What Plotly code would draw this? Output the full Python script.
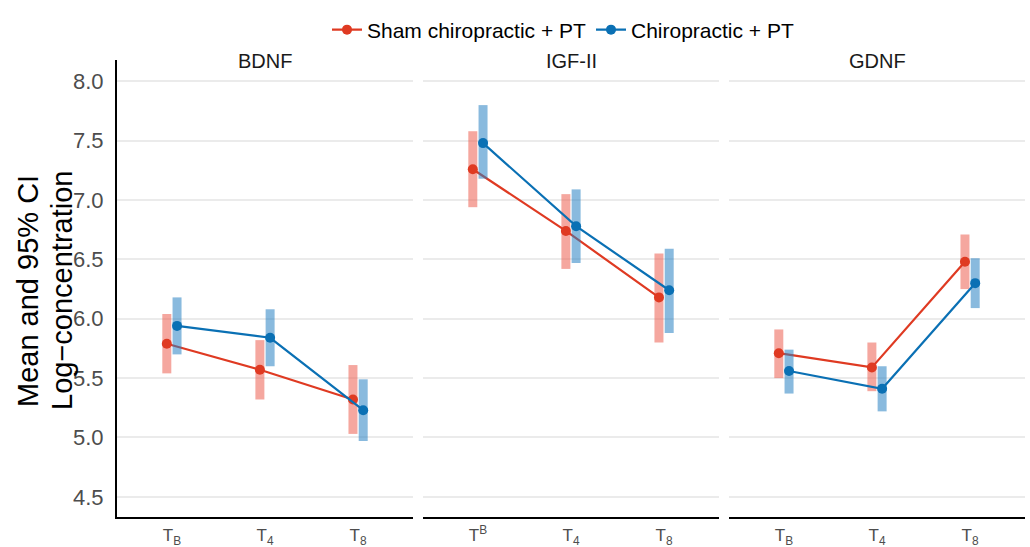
import plotly.graph_objects as go

# ---- data ----
panels = ["BDNF", "IGF-II", "GDNF"]
time_labels = ["T<sub>B</sub>", "T<sub>4</sub>", "T<sub>8</sub>"]
time_labels_mid = ["T<sup>B</sup>", "T<sub>4</sub>", "T<sub>8</sub>"]
groups = ["Sham chiropractic + PT", "Chiropractic + PT"]
y_title_lines = ["Mean and 95% CI", "Log\u2212concentration"]

sham_mean = [[5.79, 5.57, 5.32], [7.26, 6.74, 6.18], [5.71, 5.59, 6.48]]
sham_lo = [[5.54, 5.32, 5.03], [6.94, 6.42, 5.80], [5.50, 5.39, 6.25]]
sham_hi = [[6.04, 5.82, 5.61], [7.58, 7.05, 6.55], [5.91, 5.80, 6.71]]

chiro_mean = [[5.94, 5.84, 5.23], [7.48, 6.78, 6.24], [5.56, 5.41, 6.30]]
chiro_lo = [[5.70, 5.60, 4.97], [7.18, 6.47, 5.88], [5.37, 5.22, 6.09]]
chiro_hi = [[6.18, 6.08, 5.49], [7.80, 7.09, 6.59], [5.74, 5.60, 6.51]]

y_ticks = [4.5, 5.0, 5.5, 6.0, 6.5, 7.0, 7.5, 8.0]

# ---- style ----
FONT = "Liberation Sans, Arial, Helvetica, sans-serif"
line_cols = ["#DF3A22", "#0A70B4"]
bar_cols = ["rgba(236, 95, 80, 0.55)", "rgba(40, 130, 195, 0.55)"]
dodge = [-0.055, 0.055]

W, H = 1030, 547
ml, mr, mt, mb = 117, 5, 60, 30
pw = W - ml - mr
ph = H - mt - mb
domains = [[0, 296 / pw], [306 / pw, 602 / pw], [612 / pw, 1.0]]

fig = go.Figure()

series = [(sham_mean, sham_lo, sham_hi), (chiro_mean, chiro_lo, chiro_hi)]
for p in range(3):
    xa = "x" if p == 0 else f"x{p+1}"
    ya = "y" if p == 0 else f"y{p+1}"
    for g in range(2):
        mean, lo, hi = series[g]
        xs = [i + dodge[g] for i in range(3)]
        fig.add_trace(go.Scatter(
            x=xs, y=mean[p], mode="lines+markers",
            name=groups[g], legendgroup=groups[g], showlegend=(p == 0),
            line=dict(color=line_cols[g], width=2.2),
            marker=dict(color=line_cols[g], size=10),
            error_y=dict(type="data", symmetric=False,
                         array=[h - m for h, m in zip(hi[p], mean[p])],
                         arrayminus=[m - l for m, l in zip(mean[p], lo[p])],
                         color=bar_cols[g], thickness=9, width=0),
            xaxis=xa, yaxis=ya,
        ))

layout = dict(
    width=W, height=H,
    margin=dict(l=ml, r=mr, t=mt, b=mb, autoexpand=False),
    paper_bgcolor="white", plot_bgcolor="white",
    font=dict(family=FONT, color="#000000"),
    legend=dict(orientation="h", x=(563 - ml) / pw, xanchor="center",
                y=(H - mb - 30) / ph, yanchor="middle",
                font=dict(size=21, family=FONT, color="#000000"),
                itemwidth=30, tracegroupgap=0, bgcolor="rgba(0,0,0,0)"),
    showlegend=True,
)

for p in range(3):
    xkey = "xaxis" if p == 0 else f"xaxis{p+1}"
    ykey = "yaxis" if p == 0 else f"yaxis{p+1}"
    layout[xkey] = dict(
        domain=domains[p], range=[-0.59, 2.59],
        tickvals=[0, 1, 2], ticktext=(time_labels_mid if p == 1 else time_labels),
        showgrid=False, zeroline=False,
        showline=True, linecolor="#000000", linewidth=2,
        ticks="outside", ticklen=2, tickcolor="rgba(0,0,0,0)",
        tickfont=dict(size=17, color="#4D4D4D", family=FONT),
        anchor="y" if p == 0 else f"y{p+1}",
        automargin=False, fixedrange=True,
    )
    layout[ykey] = dict(
        range=[4.33, 8.18], tickvals=y_ticks,
        ticktext=[f"{v:.1f}" for v in y_ticks],
        showgrid=True, gridcolor="#EBEBEB", gridwidth=1.5,
        zeroline=False,
        showline=(p == 0), linecolor="#000000", linewidth=2,
        showticklabels=(p == 0),
        ticks="outside", ticklen=7, tickcolor="rgba(0,0,0,0)",
        tickfont=dict(size=22, color="#4D4D4D", family=FONT),
        anchor="x" if p == 0 else f"x{p+1}",
        automargin=False, fixedrange=True,
    )
    if p > 0:
        layout[ykey]["matches"] = "y"

fig.update_layout(**layout)

# strip titles
for p in range(3):
    fig.add_annotation(
        text=panels[p], xref="paper", yref="paper",
        x=(domains[p][0] + domains[p][1]) / 2, y=(H - mb - 61) / ph,
        xanchor="center", yanchor="middle", showarrow=False,
        font=dict(size=20, color="#1A1A1A", family=FONT),
    )

# y-axis title (two lines)
for k, (txt, px) in enumerate(zip(y_title_lines, [28, 62])):
    fig.add_annotation(
        text=txt, xref="paper", yref="paper",
        x=(px - ml) / pw, y=(H - mb - 291) / ph,
        xanchor="center", yanchor="middle", showarrow=False, textangle=-90,
        font=dict(size=29, color="#000000", family=FONT),
    )

fig.write_html("out.html", config={"displayModeBar": False},
               post_script="document.body.style.margin='0px';")
